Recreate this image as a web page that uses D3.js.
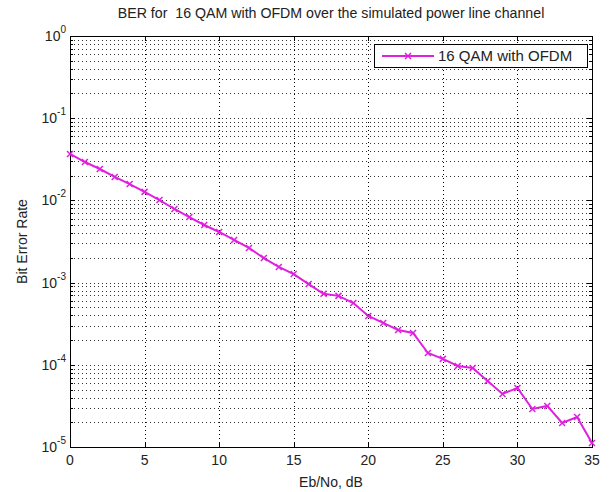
<!DOCTYPE html>
<html>
<head>
<meta charset="utf-8">
<script src="https://cdn.jsdelivr.net/npm/d3@7"></script>
<style>
body { margin: 0; background: #fff; }
svg { font-family: Arial, "Liberation Sans", sans-serif; }
</style>
</head>
<body>
<svg id="chart"></svg>
<script>
// Eb/No values and measured bit error rate
var ebno = d3.range(0, 36);
var ber = [0.0367, 0.0293, 0.0241, 0.0193, 0.0158, 0.0127, 0.0101, 0.00786, 0.00628, 0.00502,
           0.00413, 0.0033, 0.00264, 0.00199, 0.00155, 0.00127, 0.00096, 0.00073, 0.00069, 0.000565,
           0.000393, 0.000323, 0.000265, 0.000244, 0.000139, 0.000118, 0.0000967, 0.0000914, 0.0000635, 0.0000442,
           0.0000523, 0.000029, 0.0000316, 0.0000196, 0.0000232, 0.0000112];
var xTicks = [0, 5, 10, 15, 20, 25, 30, 35];
var yExps = [0, -1, -2, -3, -4, -5];

var dimensions = {
    width: 611,
    height: 492,
    margin: { top: 36, right: 19, bottom: 45, left: 70 }
};

var svg = d3.select("#chart")
            .attr("width", dimensions.width)
            .attr("height", dimensions.height);

var xScale = d3.scaleLinear()
            .domain([0, 35])
            .range([dimensions.margin.left, dimensions.width - dimensions.margin.right]);

var yScale = d3.scaleLog()
            .domain([1e-5, 1])
            .range([dimensions.height - dimensions.margin.bottom, dimensions.margin.top]);

var x0 = xScale.range()[0], x1 = xScale.range()[1];
var y0 = yScale.range()[0], y1 = yScale.range()[1];

// minor log values
var minorVals = [];
yExps.slice(1).forEach(function(e) {
    for (var k = 2; k <= 9; k++) minorVals.push(k * Math.pow(10, e));
});
var majorVals = yExps.map(e => Math.pow(10, e));

// grid
var grid = svg.append("g")
    .attr("stroke", "#000")
    .attr("stroke-width", 1)
    .attr("stroke-dasharray", "1,3")
    .attr("shape-rendering", "crispEdges");

grid.selectAll(".hgrid")
    .data(minorVals.concat(majorVals.slice(1, -1)))
    .enter()
    .append("line")
    .attr("x1", x0).attr("x2", x1)
    .attr("y1", d => Math.round(yScale(d)) + 0.5)
    .attr("y2", d => Math.round(yScale(d)) + 0.5)
    .attr("stroke-opacity", 0.8);

grid.selectAll(".vgrid")
    .data(xTicks.slice(1, -1))
    .enter()
    .append("line")
    .attr("y1", y0).attr("y2", y1)
    .attr("x1", d => Math.round(xScale(d)) + 0.5)
    .attr("x2", d => Math.round(xScale(d)) + 0.5);

// ticks (inside, on all four sides)
var ticks = svg.append("g").attr("stroke", "#000").attr("shape-rendering", "crispEdges");
xTicks.forEach(function(t) {
    var x = Math.round(xScale(t)) + 0.5;
    ticks.append("line").attr("x1", x).attr("x2", x).attr("y1", y0).attr("y2", y0 - 5);
    ticks.append("line").attr("x1", x).attr("x2", x).attr("y1", y1).attr("y2", y1 + 5);
});
majorVals.forEach(function(v) {
    var y = Math.round(yScale(v)) + 0.5;
    ticks.append("line").attr("x1", x0).attr("x2", x0 + 5).attr("y1", y).attr("y2", y);
    ticks.append("line").attr("x1", x1).attr("x2", x1 - 5).attr("y1", y).attr("y2", y);
});
minorVals.forEach(function(v) {
    var y = Math.round(yScale(v)) + 0.5;
    ticks.append("line").attr("x1", x0).attr("x2", x0 + 3).attr("y1", y).attr("y2", y);
    ticks.append("line").attr("x1", x1).attr("x2", x1 - 3).attr("y1", y).attr("y2", y);
});

// frame
svg.append("rect")
    .attr("x", x0 + 0.5).attr("y", y1 + 0.5)
    .attr("width", x1 - x0).attr("height", y0 - y1)
    .attr("fill", "none")
    .attr("stroke", "#000")
    .attr("shape-rendering", "crispEdges");

// x tick labels
svg.selectAll(".xlab")
    .data(xTicks)
    .enter()
    .append("text")
    .attr("x", d => xScale(d))
    .attr("y", y0 + 18)
    .attr("text-anchor", "middle")
    .attr("font-size", 14)
    .attr("fill", "#222")
    .text(d => d);

// y tick labels: 10 with superscript exponent
var ylab = svg.selectAll(".ylab")
    .data(yExps)
    .enter()
    .append("text")
    .attr("x", x0 - 4)
    .attr("y", d => yScale(Math.pow(10, d)) + 5)
    .attr("text-anchor", "end")
    .attr("font-size", 14)
    .attr("fill", "#222");
ylab.append("tspan").text("10");
ylab.append("tspan")
    .attr("font-size", 10)
    .attr("dy", -8)
    .text(d => d);

// axis titles
svg.append("text")
    .attr("x", (x0 + x1) / 2)
    .attr("y", dimensions.height - 5)
    .attr("text-anchor", "middle")
    .attr("font-size", 14)
    .attr("fill", "#222")
    .text("Eb/No, dB");

svg.append("text")
    .attr("transform", "translate(27," + ((y0 + y1) / 2) + ")rotate(-90)")
    .attr("text-anchor", "middle")
    .attr("font-size", 14)
    .attr("fill", "#222")
    .text("Bit Error Rate");

svg.append("text")
    .attr("x", (x0 + x1) / 2)
    .attr("y", 18)
    .attr("text-anchor", "middle")
    .attr("font-size", 14.2)
    .attr("fill", "#222")
    .style("white-space", "pre")
    .text("BER for  16 QAM with OFDM over the simulated power line channel");

// data line
var points = ebno.map((d, i) => [d, ber[i]]);
var color = "#e020e0";

svg.append("path")
    .datum(points)
    .attr("fill", "none")
    .attr("stroke", color)
    .attr("stroke-width", 2)
    .attr("d", d3.line().x(d => xScale(d[0])).y(d => yScale(d[1])));

var s = 3;
svg.selectAll(".mark")
    .data(points)
    .enter()
    .append("path")
    .attr("fill", "none")
    .attr("stroke", color)
    .attr("stroke-width", 1.5)
    .attr("d", function(d) {
        var px = xScale(d[0]), py = yScale(d[1]);
        return "M" + (px - s) + "," + (py - s) + "L" + (px + s) + "," + (py + s) +
               "M" + (px - s) + "," + (py + s) + "L" + (px + s) + "," + (py - s);
    });

// legend
var legend = svg.append("g");
legend.append("rect")
    .attr("x", 374.5).attr("y", 44.5)
    .attr("width", 213).attr("height", 23)
    .attr("fill", "#fff")
    .attr("stroke", "#000")
    .attr("shape-rendering", "crispEdges");
legend.append("line")
    .attr("x1", 382).attr("x2", 434)
    .attr("y1", 56).attr("y2", 56)
    .attr("stroke", color)
    .attr("stroke-width", 2);
legend.append("path")
    .attr("fill", "none")
    .attr("stroke", color)
    .attr("stroke-width", 1.5)
    .attr("d", "M" + (408 - s) + "," + (56 - s) + "L" + (408 + s) + "," + (56 + s) +
               "M" + (408 - s) + "," + (56 + s) + "L" + (408 + s) + "," + (56 - s));
legend.append("text")
    .attr("x", 438)
    .attr("y", 61)
    .attr("font-size", 15)
    .attr("fill", "#222")
    .text("16 QAM with OFDM");
</script>
</body>
</html>
